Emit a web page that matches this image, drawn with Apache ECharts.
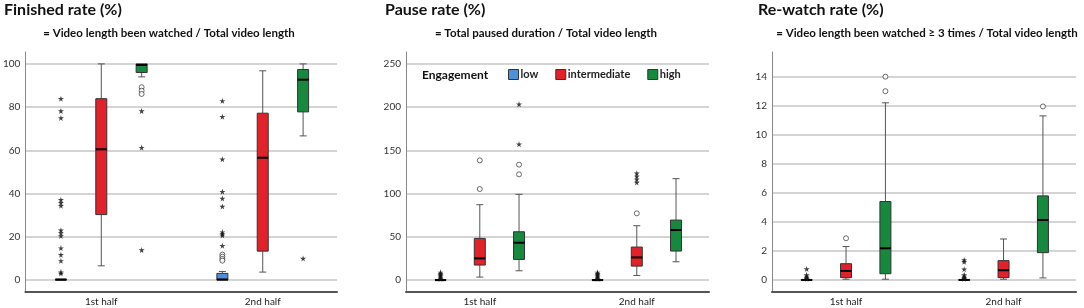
<!DOCTYPE html>
<html>
<head>
<meta charset="utf-8">
<script src="https://cdn.jsdelivr.net/npm/echarts@6/dist/echarts.min.js"></script>
<style>
html,body{margin:0;padding:0;background:#fff;}
#chart{width:1084px;height:308px;}
</style>
</head>
<body>
<div id="chart"></div>
<script>
// ---------- data ----------
const categories = ['1st half', '2nd half'];
const levels = ['low', 'intermediate', 'high'];

// box stats per half: [lower whisker, Q1, median, Q3, upper whisker]
const finishedLow = [[0, 0, 0.2, 0.5, 0.5], [0, 0, 0.3, 3.1, 4.0]];
const finishedIntermediate = [[6.6, 30.3, 60.5, 83.9, 100], [3.7, 13.4, 56.6, 77.2, 96.8]];
const finishedHigh = [[94.0, 96.0, 99.5, 100, 100], [66.7, 77.8, 92.7, 97.4, 100]];

const pauseLow = [[0, 0, 0, 0.5, 0.5], [0, 0, 0, 0.5, 0.5]];
const pauseIntermediate = [[3.5, 17.4, 25.1, 48.2, 87.2], [5.4, 16.2, 26.2, 38.2, 62.9]];
const pauseHigh = [[10.8, 23.9, 43.2, 55.9, 99.2], [21.2, 33.6, 57.9, 69.4, 117.3]];

const rewatchLow = [[0, 0, 0, 0.02, 0.02], [0, 0, 0, 0.02, 0.02]];
const rewatchIntermediate = [[0.05, 0.16, 0.62, 1.12, 2.3], [0.05, 0.16, 0.67, 1.33, 2.82]];
const rewatchHigh = [[0.05, 0.43, 2.18, 5.4, 12.2], [0.14, 1.88, 4.13, 5.79, 11.3]];

// outliers: [half index, value]; mild = circle, extreme = star
const finishedMild = {
  low: [[1, 11.8], [1, 10.8], [1, 9.8], [1, 9.0]],
  intermediate: [],
  high: [[0, 89.2], [0, 87.6], [0, 86.1]]
};
const finishedExtreme = {
  low: [[0, 83.9], [0, 78.2], [0, 75.0], [0, 37.2], [0, 35.8], [0, 34.4], [0, 23.1], [0, 21.8], [0, 20.4],
        [0, 14.8], [0, 11.7], [0, 8.9], [0, 3.7], [0, 3.1],
        [1, 82.9], [1, 75.6], [1, 55.9], [1, 40.9], [1, 37.8], [1, 34.1], [1, 22.2], [1, 21.4], [1, 20.7], [1, 15.9]],
  intermediate: [],
  high: [[0, 78.2], [0, 61.3], [0, 13.9], [1, 10.0]]
};
const pauseMild = {
  low: [],
  intermediate: [[0, 138.5], [0, 105.3], [1, 77.2]],
  high: [[0, 133.5], [0, 122.3]]
};
const pauseExtreme = {
  low: [[0, 1.5], [0, 3], [0, 4.5], [0, 6], [0, 7.5], [0, 9],
        [1, 1.5], [1, 3], [1, 4.5], [1, 6], [1, 7.5], [1, 9]],
  intermediate: [[1, 123.5], [1, 120.0], [1, 116.5], [1, 113.0]],
  high: [[0, 203.3], [0, 157.1]]
};
const rewatchMild = {
  low: [],
  intermediate: [[0, 2.87]],
  high: [[0, 14.0], [0, 13.0], [1, 11.95]]
};
const rewatchExtreme = {
  low: [[0, 0.76], [0, 0.35], [0, 0.25], [0, 0.15], [0, 0.08],
        [1, 1.38], [1, 1.25], [1, 0.74], [1, 0.35], [1, 0.25], [1, 0.15], [1, 0.08]],
  intermediate: [],
  high: []
};

const yTicksFinished = [0, 20, 40, 60, 80, 100];
const yTicksPause = [0, 50, 100, 150, 200, 250];
const yTicksRewatch = [0, 2, 4, 6, 8, 10, 12, 14];

const titles = ['Finished rate (%)', 'Pause rate (%)', 'Re-watch rate (%)'];
const subtitles = ['= Video length been watched / Total video length',
                   '= Total paused duration / Total video length',
                   '= Video length been watched \u2265 3 times / Total video length'];

// ---------- styling / layout ----------
const colors = { low: '#4e8fd9', intermediate: '#e2212b', high: '#16893f' };
const levelOffset = { low: -0.25, intermediate: 0, high: 0.25 };
const FONT = 'Lato, "Open Sans", sans-serif';
const STAR = 'path://M50,0 L61,35 L98,35 L68,57 L79,91 L50,70 L21,91 L32,57 L2,35 L39,35 Z';

const panels = [
  { boxes: { low: finishedLow, intermediate: finishedIntermediate, high: finishedHigh },
    mild: finishedMild, extreme: finishedExtreme, ticks: yTicksFinished, ymin: -5.5, ymax: 105.5,
    grid: { left: 22, right: 747, top: 52, bottom: 16 } },
  { boxes: { low: pauseLow, intermediate: pauseIntermediate, high: pauseHigh },
    mild: pauseMild, extreme: pauseExtreme, ticks: yTicksPause, ymin: -13.75, ymax: 263.75,
    grid: { left: 406, right: 375, top: 52, bottom: 16 } },
  { boxes: { low: rewatchLow, intermediate: rewatchIntermediate, high: rewatchHigh },
    mild: rewatchMild, extreme: rewatchExtreme, ticks: yTicksRewatch, ymin: -0.83, ymax: 15.7,
    grid: { left: 772, right: 8, top: 52, bottom: 16 } }
];

function renderBox(params, api) {
  const x = api.value(0);
  const cx = api.coord([x, 0])[0];
  const ys = [1, 2, 3, 4, 5].map(i => api.coord([x, api.value(i)])[1]);
  const [yMin, yQ1, yMed, yQ3, yMax] = ys;
  const w = 11, cap = 7;
  const whisk = { stroke: '#555', lineWidth: 1 };
  const children = [];
  if (yMax < yQ3 - 0.5) {
    children.push({ type: 'line', shape: { x1: cx, y1: yQ3, x2: cx, y2: yMax }, style: whisk });
    children.push({ type: 'line', shape: { x1: cx - cap / 2, y1: yMax, x2: cx + cap / 2, y2: yMax }, style: whisk });
  }
  if (yMin > yQ1 + 0.5) {
    children.push({ type: 'line', shape: { x1: cx, y1: yQ1, x2: cx, y2: yMin }, style: whisk });
    children.push({ type: 'line', shape: { x1: cx - cap / 2, y1: yMin, x2: cx + cap / 2, y2: yMin }, style: whisk });
  }
  children.push({ type: 'rect', shape: { x: cx - w / 2, y: yQ3, width: w, height: Math.max(yQ1 - yQ3, 0.5) },
    style: { fill: api.visual('color'), stroke: '#333', lineWidth: 1 } });
  children.push({ type: 'line', shape: { x1: cx - w / 2, y1: yMed, x2: cx + w / 2, y2: yMed },
    style: { stroke: '#000', lineWidth: 2 } });
  return { type: 'group', children };
}

const grids = [], xAxes = [], yAxes = [], series = [], graphics = [];
const titleX = [4, 385, 758];
const subX = [169, 546, 927];

panels.forEach((p, pi) => {
  grids.push(p.grid);
  xAxes.push({
    type: 'value', gridIndex: pi, min: -0.47, max: 1.46,
    axisLine: { show: true, onZero: false, lineStyle: { color: '#555', width: 2 } },
    axisTick: { show: false },
    splitLine: { show: false },
    axisLabel: { customValues: [0, 1], formatter: v => categories[Math.round(v)], fontSize: 10, color: '#222', margin: 5, fontFamily: FONT }
  });
  yAxes.push({
    type: 'value', gridIndex: pi, min: p.ymin, max: p.ymax,
    axisLine: { show: true, onZero: false, lineStyle: { color: '#888', width: 1 } },
    axisTick: { show: false, customValues: p.ticks },
    axisLabel: { customValues: p.ticks, fontSize: 10, color: '#333', margin: 5, fontFamily: FONT },
    splitLine: { show: true, lineStyle: { color: '#c6c6c6', width: 1.5 } }
  });
  levels.forEach(lv => {
    const boxData = p.boxes[lv].map((s, hi) => [hi + levelOffset[lv]].concat(s));
    series.push({
      name: lv, type: 'custom', xAxisIndex: pi, yAxisIndex: pi,
      itemStyle: { color: colors[lv] },
      encode: { x: 0, y: [1, 2, 3, 4, 5] },
      renderItem: renderBox, data: boxData, silent: true, z: 2
    });
    if (p.mild[lv].length) {
      series.push({
        name: lv + ' mild outliers', type: 'scatter', xAxisIndex: pi, yAxisIndex: pi,
        symbol: 'circle', symbolSize: 5,
        itemStyle: { color: '#fff', borderColor: '#333', borderWidth: 0.9 },
        data: p.mild[lv].map(d => [d[0] + levelOffset[lv], d[1]]), silent: true, z: 3
      });
    }
    if (p.extreme[lv].length) {
      series.push({
        name: lv + ' extreme outliers', type: 'scatter', xAxisIndex: pi, yAxisIndex: pi,
        symbol: STAR, symbolSize: 6,
        itemStyle: { color: '#111' },
        data: p.extreme[lv].map(d => [d[0] + levelOffset[lv], d[1]]), silent: true, z: 3
      });
    }
  });
  graphics.push({ type: 'text', x: titleX[pi], y: 10,
    style: { text: titles[pi], font: 'bold 16px ' + FONT, fill: '#111', textAlign: 'left', textVerticalAlign: 'middle' } });
  graphics.push({ type: 'text', x: subX[pi], y: 33,
    style: { text: subtitles[pi], font: 'bold 11.5px ' + FONT, fill: '#111', textAlign: 'center', textVerticalAlign: 'middle' } });
});

graphics.push({ type: 'text', x: 422, y: 75,
  style: { text: 'Engagement', font: 'bold 12px ' + FONT, fill: '#111', textAlign: 'left', textVerticalAlign: 'middle' } });

const option = {
  backgroundColor: '#fff',
  animation: false,
  grid: grids,
  xAxis: xAxes,
  yAxis: yAxes,
  legend: {
    left: 508, top: 69, padding: 0, itemWidth: 10, itemHeight: 10, itemGap: 17, icon: 'rect',
    textStyle: { fontSize: 11, fontWeight: 'bold', color: '#222', fontFamily: FONT, padding: [0, 0, 0, -3] },
    data: levels.map(lv => ({ name: lv, itemStyle: { color: colors[lv], borderColor: '#333', borderWidth: 1 } }))
  },
  graphic: graphics,
  series: series
};

const chart = echarts.init(document.getElementById('chart'), null, { renderer: 'canvas' });
chart.setOption(option);
</script>
</body>
</html>
